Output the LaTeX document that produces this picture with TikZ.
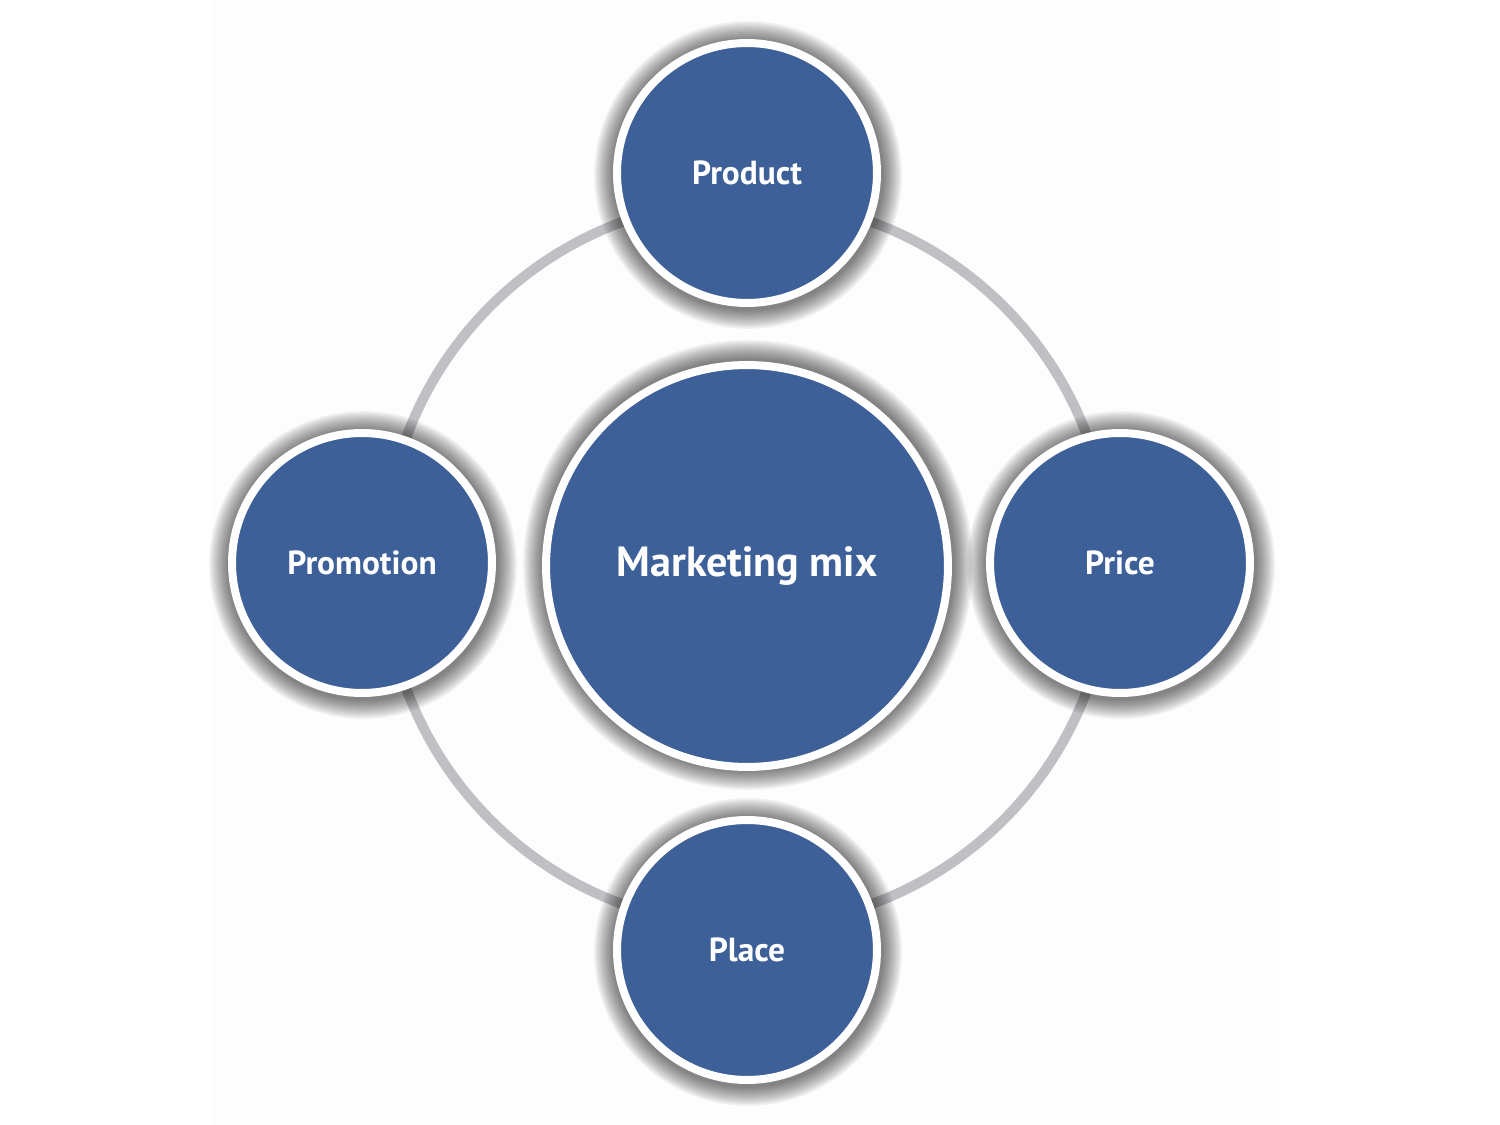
\documentclass[tikz,border=0pt]{standalone}
\usepackage{fontspec}
\setmainfont{PT Sans}
\definecolor{mixblue}{RGB}{62,96,152}
\definecolor{ringgray}{RGB}{192,192,196}
\begin{document}
\begin{tikzpicture}[x=0.02cm,y=-0.02cm,
  sat/.style={circle,fill=mixblue,draw=white,line width=0.16cm,inner sep=0pt,outer sep=0pt,
    minimum size=5.2cm,text=white,font=\bfseries\fontsize{19}{22}\selectfont},
  hub/.style={sat,minimum size=8.04cm,font=\bfseries\fontsize{24}{30}\selectfont},
  glow/.style={fill=black,fill opacity=0.055}]
\useasboundingbox (0,0) rectangle (1500,1125);
\fill[white] (0,0) rectangle (1500,1125);
\fill[black!0.8] (210,0) rectangle (1280,1125);
\draw[ringgray,line width=0.2cm] (747,563) circle[radius=363];
\foreach \cx/\cy/\r in {747/563/205,747/173/134,362/563/134,1120/563/134,747/950/134}{
  \foreach \i in {1,...,11}{
    \fill[glow] (\cx+1,\cy+2) circle[radius=\r+1.8*\i];
  }
}
\node[hub] (mix) at (747,566) {Marketing mix};
\node[sat] (product) at (747,173) {Product};
\node[sat] (promotion) at (362,563) {Promotion};
\node[sat] (price) at (1120,563) {Price};
\node[sat] (place) at (747,950) {Place};
\end{tikzpicture}
\end{document}
